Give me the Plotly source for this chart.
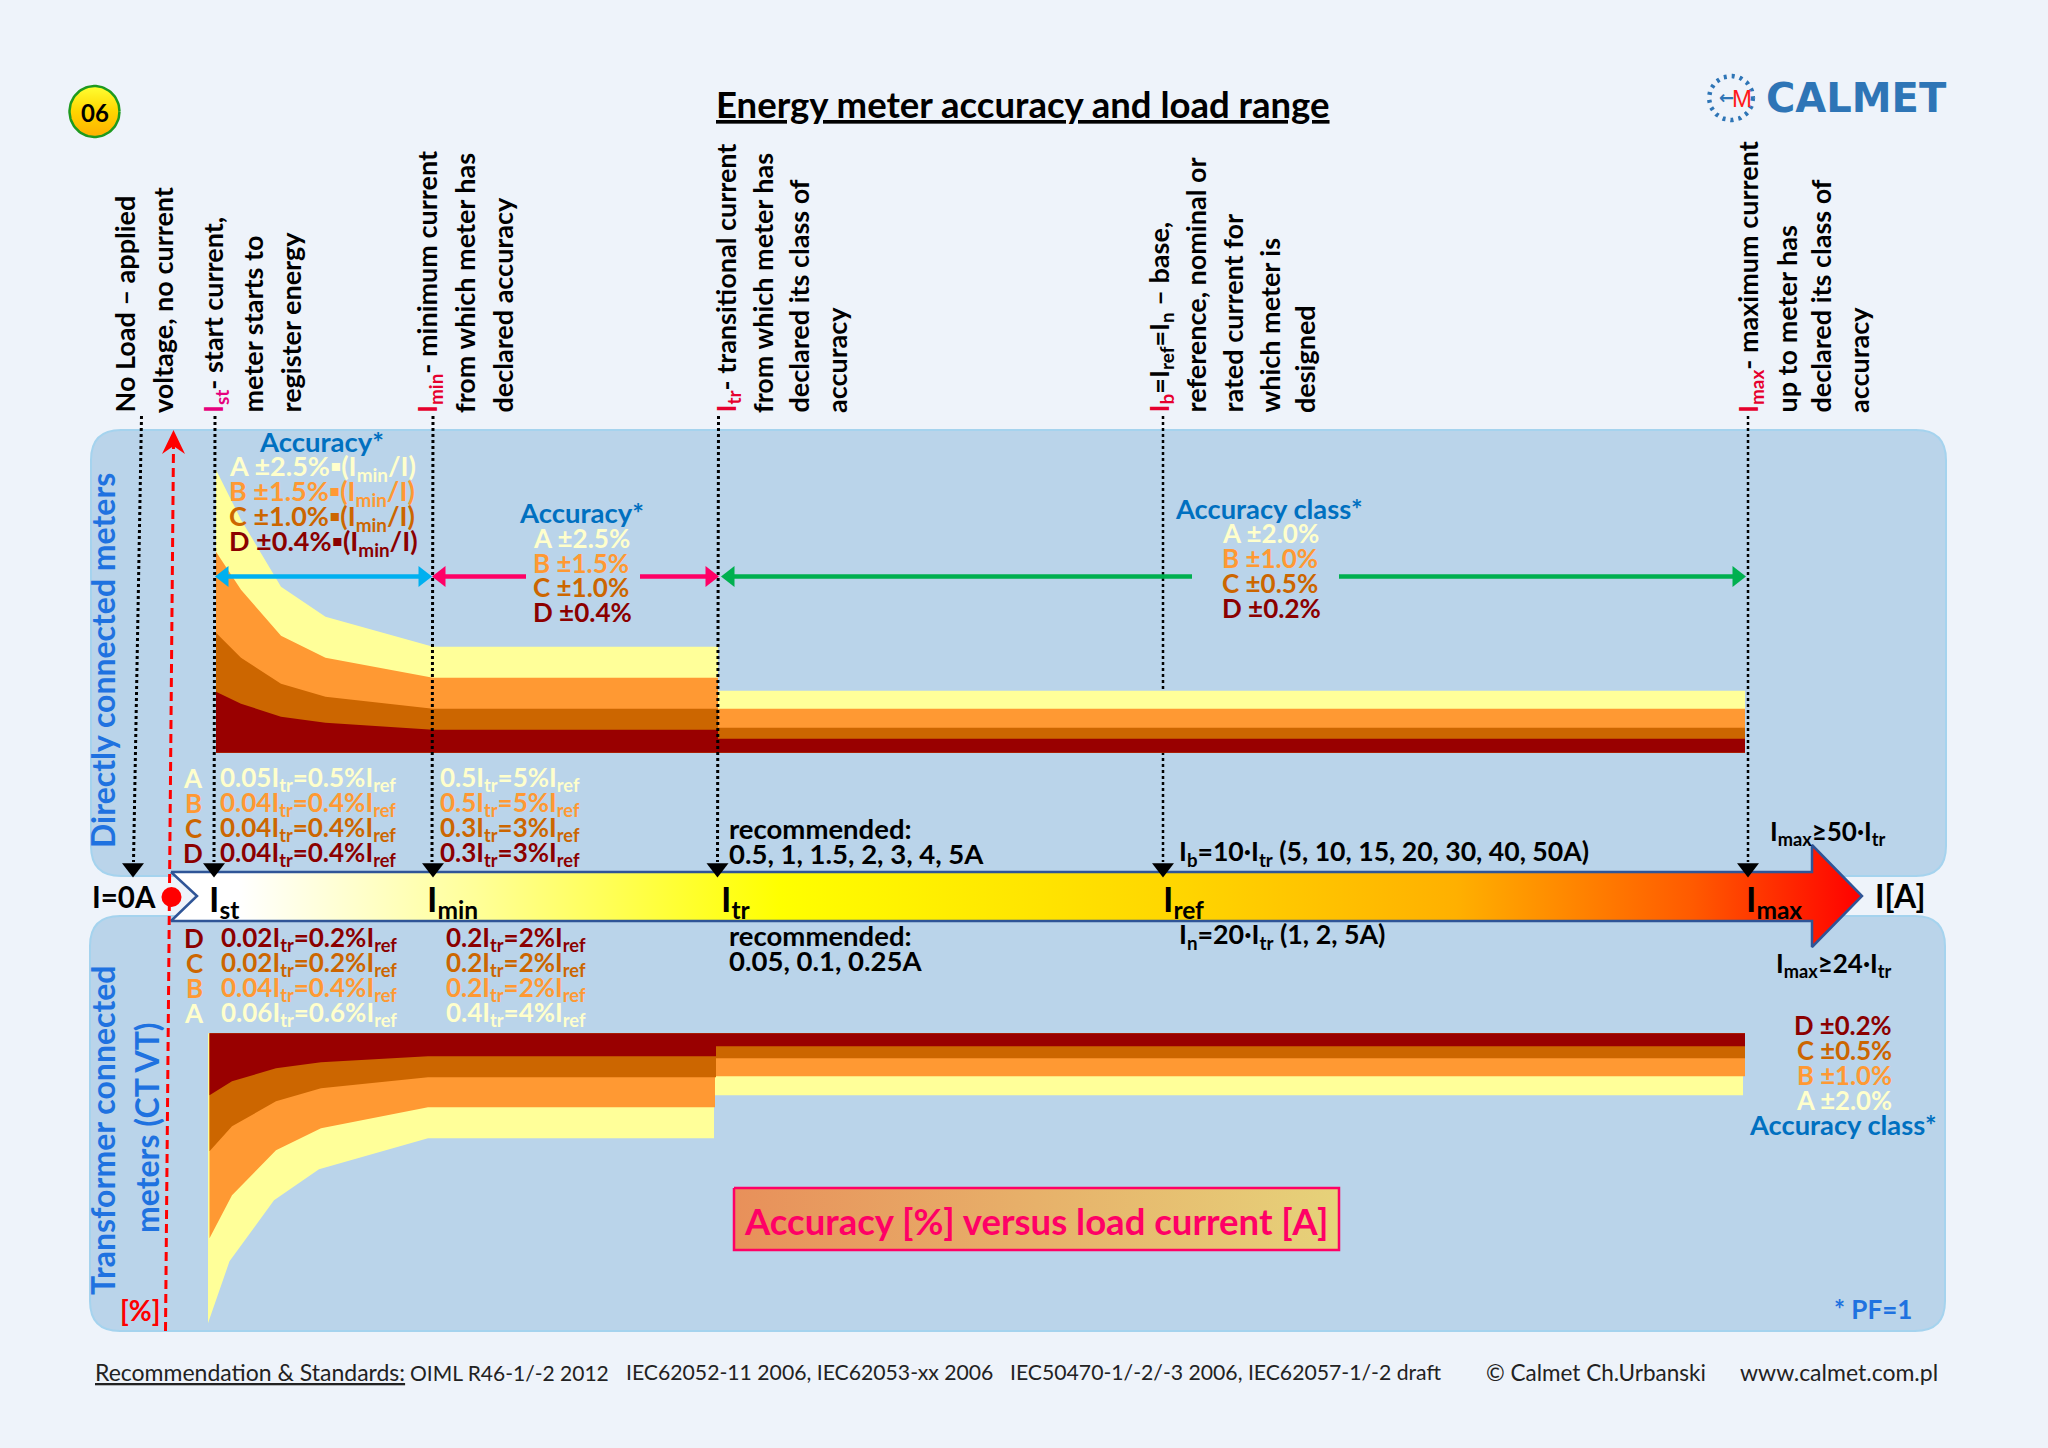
import numpy as np
import plotly.graph_objects as go

W, H = 2048, 1448
BG = "#EEF3FA"
PANEL = "#BAD4EA"
PANEL_EDGE = "#A5D3EE"
COL = dict(A="#FFFF99", B="#FF9933", C="#CC6600", D="#990000")
TXT = dict(A="#FFFFCC", B="#FF9933", C="#CC6600", D="#8B0000")
BLUE = "#0070C0"
SIDE = "#1F72E0"
PINK = "#FF0066"
FONT = "Lato"

# load-current marks on the horizontal axis
I_ZERO, I_ST, I_MIN, I_TR, I_REF, I_MAX = 133, 215, 433, 718.5, 1163, 1748

# directly connected meters: error band height above the axis line
direct_x = [216, 241, 281, 325.5, 433, 718, 718, 1745]
direct_A = [283, 233, 166, 136, 106, 106, 62, 62]
direct_B = [201, 163, 117, 95, 75, 75, 44, 44]
direct_C = [120, 95, 69, 56, 44, 44, 25, 25]
direct_D = [61, 49, 36, 30, 23, 23, 14, 14]

# transformer connected meters: error band depth below the top line
trans_x_A = [208, 229.5, 274, 319, 428, 714, 714, 1743]
trans_x_B = [209.5, 232, 276, 321, 428, 715, 715, 1745]
trans_x_C = [209.5, 232, 276, 321, 428, 716, 716, 1745]
trans_x_D = [209.5, 232, 276, 321, 428, 716, 716, 1745]
trans_A = [290, 228, 167, 136, 105, 105, 62, 62]
trans_B = [205, 162, 117, 95, 74, 74, 43, 43]
trans_C = [118, 93, 68, 55, 44, 44, 25, 25]
trans_D = [62, 48, 35, 29, 23, 23, 13, 13]

vertical_labels = [
    (124, "No Load – applied"), (162, "voltage, no current"),
    (214, "<span style='color:#E6007E'>I<sub>st</sub></span>- start current,"),
    (252, "meter starts to"), (290, "register energy"),
    (428, "<span style='color:#E6002E'>I<sub>min</sub></span>- minimum current"),
    (464, "from which meter has"), (502, "declared accuracy"),
    (727, "<span style='color:#E6002E'>I<sub>tr</sub></span>- transitional current"),
    (762, "from which meter has"), (798, "declared its class of"), (836, "accuracy"),
    (1160, "<span style='color:#E6002E'>I<sub>b</sub></span>=I<sub>ref</sub>=I<sub>n</sub> – base,"),
    (1195, "reference, nominal or"), (1232, "rated current for"),
    (1269, "which meter is"), (1304, "designed"),
    (1749, "<span style='color:#E6002E'>I<sub>max</sub></span>- maximum current"),
    (1786, "up to meter has"), (1820, "declared its class of"), (1858, "accuracy"),
]
classes = ["A", "B", "C", "D"]
acc_low = ["A ±2.5%▪(I<sub>min</sub>/I)", "B ±1.5%▪(I<sub>min</sub>/I)",
           "C ±1.0%▪(I<sub>min</sub>/I)", "D ±0.4%▪(I<sub>min</sub>/I)"]
acc_mid = ["A ±2.5%", "B ±1.5%", "C ±1.0%", "D ±0.4%"]
acc_cls = ["A ±2.0%", "B ±1.0%", "C ±0.5%", "D ±0.2%"]
direct_ist = ["0.05I<sub>tr</sub>=0.5%I<sub>ref</sub>", "0.04I<sub>tr</sub>=0.4%I<sub>ref</sub>",
              "0.04I<sub>tr</sub>=0.4%I<sub>ref</sub>", "0.04I<sub>tr</sub>=0.4%I<sub>ref</sub>"]
direct_imin = ["0.5I<sub>tr</sub>=5%I<sub>ref</sub>", "0.5I<sub>tr</sub>=5%I<sub>ref</sub>",
               "0.3I<sub>tr</sub>=3%I<sub>ref</sub>", "0.3I<sub>tr</sub>=3%I<sub>ref</sub>"]
trans_classes = ["D", "C", "B", "A"]
trans_ist = ["0.02I<sub>tr</sub>=0.2%I<sub>ref</sub>", "0.02I<sub>tr</sub>=0.2%I<sub>ref</sub>",
             "0.04I<sub>tr</sub>=0.4%I<sub>ref</sub>", "0.06I<sub>tr</sub>=0.6%I<sub>ref</sub>"]
trans_imin = ["0.2I<sub>tr</sub>=2%I<sub>ref</sub>", "0.2I<sub>tr</sub>=2%I<sub>ref</sub>",
              "0.2I<sub>tr</sub>=2%I<sub>ref</sub>", "0.4I<sub>tr</sub>=4%I<sub>ref</sub>"]
axis_marks = [(207, "I<sub>st</sub>"), (425, "I<sub>min</sub>"), (719, "I<sub>tr</sub>"),
              (1161, "I<sub>ref</sub>"), (1744, "I<sub>max</sub>")]
right_labels = ["D ±0.2%", "C ±0.5%", "B ±1.0%", "A ±2.0%"]

AX_DIRECT = 752.7   # page row of the direct panel's axis line
AX_TRANS = 1033.3   # page row of the transformer panel's top line

fig = go.Figure()
ann = []
shapes = []


def text(x, y, s, size=24, color="black", anchor="left", weight=700, angle=0, yanchor="middle", **font):
    ann.append(dict(x=x, y=y, xref="x", yref="y", text=s, showarrow=False, xanchor=anchor, yanchor=yanchor,
                    textangle=angle, font=dict(family=FONT, size=size, color=color, weight=weight, **font)))


def rounded(x0, y0, x1, y1, r):
    return (f"M{x0+r},{y0} L{x1-r},{y0} Q{x1},{y0} {x1},{y0+r} L{x1},{y1-r} Q{x1},{y1} {x1-r},{y1} "
            f"L{x0+r},{y1} Q{x0},{y1} {x0},{y1-r} L{x0},{y0+r} Q{x0},{y0} {x0+r},{y0} Z")


def line(xs, ys, color="black", width=3, dash=None, yaxis="y4"):
    fig.add_trace(go.Scatter(x=xs, y=ys, yaxis=yaxis, mode="lines", line=dict(color=color, width=width, dash=dash),
                             hoverinfo="skip", showlegend=False))


def tri(x, y, symbol, color, size=18):
    fig.add_trace(go.Scatter(x=[x], y=[y], yaxis="y4", mode="markers", hoverinfo="skip", showlegend=False,
                             marker=dict(symbol=symbol, color=color, size=size, line=dict(width=0))))


def double_arrow(x0, x1, color, gap=None):
    y = 576.5
    if gap:
        line([x0 + 8, gap[0]], [y, y], color, 4.5)
        line([gap[1], x1 - 8], [y, y], color, 4.5)
    else:
        line([x0 + 8, x1 - 8], [y, y], color, 4.5)
    tri(x0 + 8, y, "triangle-left", color, 18)
    tri(x1 - 8, y, "triangle-right", color, 18)


# panels
for x0, y0, x1, y1 in [(91, 430, 1946, 876), (90, 916, 1945, 1331)]:
    shapes.append(dict(type="path", path=rounded(x0, y0, x1, y1, 30), fillcolor=PANEL,
                       line=dict(color=PANEL_EDGE, width=2), layer="below"))

# guides that pass behind the bands
line([I_REF, I_REF], [416, 862], width=2.5, dash="dot", yaxis="y")
line([I_MAX, I_MAX], [416, 862], width=2.5, dash="dot", yaxis="y")

# error bands
for key, vals in zip(classes, [direct_A, direct_B, direct_C, direct_D]):
    fig.add_trace(go.Scatter(x=direct_x, y=vals, yaxis="y2", mode="lines", fill="tozeroy", fillcolor=COL[key],
                             line=dict(width=0, color=COL[key]), name="Direct " + key, showlegend=False))
for key, xs, vals in zip(classes, [trans_x_A, trans_x_B, trans_x_C, trans_x_D], [trans_A, trans_B, trans_C, trans_D]):
    fig.add_trace(go.Scatter(x=xs, y=vals, yaxis="y3", mode="lines", fill="tozeroy", fillcolor=COL[key],
                             line=dict(width=0, color=COL[key]), name="Transformer " + key, showlegend=False))

# load-axis arrow
fig.add_trace(go.Scatter(
    x=[171, 1812, 1812, 1862, 1812, 1812, 171, 197, 171],
    y=[872, 872, 845, 896, 947, 921, 921, 896, 872], yaxis="y4",
    mode="lines", fill="toself", line=dict(color="#2F5597", width=2.5), hoverinfo="skip", showlegend=False,
    fillgradient=dict(type="horizontal", colorscale=[[0, "#FFFFFF"], [0.04, "#FFFFFF"], [0.18, "#FFFF99"],
                                                     [0.36, "#FFFF00"], [0.6, "#FFD500"], [0.76, "#FFB000"],
                                                     [0.9, "#FF5A00"], [1, "#FF0000"]])))

# dotted guides and their heads
line([141.5, 133.5], [416, 862], dash="dot")
for x in [I_ST, I_MIN, I_TR]:
    line([x, x - 1], [416, 862], dash="dot")
for x in [I_ZERO, I_ST - 1, I_MIN, I_TR - 1, I_REF, I_MAX]:
    tri(x, 868, "triangle-down", "black", 19)

# vertical zero axis in red
line([165.5, 173.5], [1331, 445], "#FF0000", 3, "9px,5px")
fig.add_trace(go.Scatter(x=[173.5, 162, 173.5, 185, 173.5], y=[430, 454, 446, 454, 430], yaxis="y4", mode="lines",
                         fill="toself", fillcolor="#FF0000", line=dict(width=0, color="#FF0000"),
                         hoverinfo="skip", showlegend=False))
tri(171.5, 897, "circle", "#FF0000", 20)

# range arrows
double_arrow(216, 431, "#00B0F0")
double_arrow(433, 718, PINK, gap=(526, 640))
double_arrow(722, 1745, "#00B050", gap=(1192, 1339))

# badge
t = np.linspace(0, 2 * np.pi, 80)
fig.add_trace(go.Scatter(x=94.5 + 25 * np.cos(t), y=111.5 + 25.5 * np.sin(t), yaxis="y4", mode="lines", fill="toself",
                         line=dict(color="#1E9A1E", width=2.5), hoverinfo="skip", showlegend=False,
                         fillgradient=dict(type="vertical", colorscale=[[0, "#FFB000"], [0.5, "#FFD500"], [1, "#FFFF33"]])))
text(94.5, 112, "06", 24, anchor="center")

# logo
fig.add_trace(go.Scatter(x=1731 + 22 * np.cos(t), y=98 + 22 * np.sin(t), yaxis="y4", mode="lines",
                         line=dict(color="#2E75B6", width=4.5, dash="3px,5px"), hoverinfo="skip", showlegend=False))
ann.append(dict(x=1726, y=97, xref="x", yref="y", text="←", showarrow=False, xanchor="center", yanchor="middle",
                font=dict(family="DejaVu Sans", size=18, color="#2E75B6", weight=700)))
ann.append(dict(x=1742, y=98, xref="x", yref="y", text="M", showarrow=False, xanchor="center", yanchor="middle",
                font=dict(family="Liberation Sans", size=24, color="#FF1A1A", weight=400)))
ann.append(dict(x=1949, y=98, xref="x", yref="y", text="CALMET", showarrow=False, xanchor="right", yanchor="middle",
                font=dict(family="DejaVu Sans", size=40, color="#2E75B6", weight=700)))

# title
text(1023, 104, "Energy meter accuracy and load range", 36.5, anchor="center", lineposition="under")

# vertical descriptions
for x, s in vertical_labels:
    text(x, 415, s, 27, angle=-90, anchor="center", yanchor="bottom", weight=700)

# side labels
text(102, 661, "Directly connected meters", 32, SIDE, "center", angle=-90)
text(102, 1130, "Transformer connected", 32, SIDE, "center", angle=-90)
text(146, 1128, "meters (CT VT)", 32, SIDE, "center", angle=-90)

# accuracy blocks
text(321, 441.5, "Accuracy*", 27.5, BLUE, "center")
for i, k in enumerate(classes):
    text(227, 467.5 + i * 25, acc_low[i], 27, TXT[k])
text(581, 512, "Accuracy*", 27.5, BLUE, "center")
for i, k in enumerate(classes):
    text(531, 538 + i * 24.7, acc_mid[i], 26, TXT[k])
text(1269, 508, "Accuracy class*", 27.3, BLUE, "center")
for i, k in enumerate(classes):
    text(1220, 533 + i * 25, acc_cls[i], 26, TXT[k])

# threshold tables
for i, k in enumerate(classes):
    y = 778 + i * 25
    text(193, y, k, 26, TXT[k], "center")
    text(218, y, direct_ist[i], 26, TXT[k])
    text(438, y, direct_imin[i], 26, TXT[k])
for i, k in enumerate(trans_classes):
    y = 938 + i * 25
    text(194, y, k, 26, TXT[k], "center")
    text(219, y, trans_ist[i], 26, TXT[k])
    text(444, y, trans_imin[i], 26, TXT[k])

# notes around the axis
text(90, 896, "I=0A", 29.5)
text(1873, 895, "I[A]", 32)
for x, s in axis_marks:
    text(x, 900, s, 35)
text(727, 828, "recommended:", 27.5)
text(727, 853, "0.5, 1, 1.5, 2, 3, 4, 5A", 27.5)
text(727, 935, "recommended:", 27.5)
text(727, 960, "0.05, 0.1, 0.25A", 27.5)
text(1177, 853, "I<sub>b</sub>=10·I<sub>tr</sub> (5, 10, 15, 20, 30, 40, 50A)", 26.6)
text(1177, 936, "I<sub>n</sub>=20·I<sub>tr</sub> (1, 2, 5A)", 26.8)
text(1768, 832, "I<sub>max</sub>≥50·I<sub>tr</sub>", 26)
text(1774, 964, "I<sub>max</sub>≥24·I<sub>tr</sub>", 26)

# right-hand class list
for i, s in enumerate(right_labels):
    text(1894, 1025 + i * 25, s, 25.7, TXT[s[0]], "right")
text(1843, 1124, "Accuracy class*", 27.3, BLUE, "center")
text(1914, 1309, "* PF=1", 26, SIDE, "right")
text(140, 1310, "[%]", 28, "#FF0000", "center")

# caption box
fig.add_trace(go.Scatter(x=[734, 1339, 1339, 734, 734], y=[1188, 1188, 1250, 1250, 1188], yaxis="y4", mode="lines", fill="toself",
                         line=dict(color=PINK, width=2.5), hoverinfo="skip", showlegend=False,
                         fillgradient=dict(type="horizontal", colorscale=[[0, "#E8905A"], [1, "#E6D27A"]])))
text(1036, 1221, "Accuracy [%] versus load current [A]", 36.5, PINK, "center")

# footer
FOOT = "#222222"
text(93, 1372, "Recommendation &amp; Standards:", 23, FOOT, weight=400, lineposition="under")
text(408, 1372, "OIML R46-1/-2 2012", 21, FOOT, weight=400)
text(624, 1372, "IEC62052-11 2006, IEC62053-xx 2006", 21.2, FOOT, weight=400)
text(1008, 1372, "IEC50470-1/-2/-3 2006, IEC62057-1/-2 draft", 21.2, FOOT, weight=400)
text(1484, 1372, "© Calmet Ch.Urbanski", 22.5, FOOT, weight=400)
text(1738, 1372, "www.calmet.com.pl", 23, FOOT, weight=400)

hidden = dict(visible=False, showgrid=False, zeroline=False, fixedrange=True)
fig.update_layout(
    width=W, height=H, autosize=False, margin=dict(l=0, r=0, t=0, b=0, pad=0),
    paper_bgcolor=BG, plot_bgcolor=BG, showlegend=False, annotations=ann, shapes=shapes,
    xaxis=dict(range=[0, W], **hidden),
    yaxis=dict(range=[H, 0], **hidden),
    yaxis2=dict(range=[AX_DIRECT - H, AX_DIRECT], overlaying="y", **hidden),
    yaxis3=dict(range=[H - AX_TRANS, -AX_TRANS], overlaying="y", **hidden),
    yaxis4=dict(range=[H, 0], overlaying="y", **hidden),
)
fig.write_html("out.html", config=dict(displayModeBar=False),
               post_script="document.body.style.margin='0';document.documentElement.style.overflow='hidden';")
